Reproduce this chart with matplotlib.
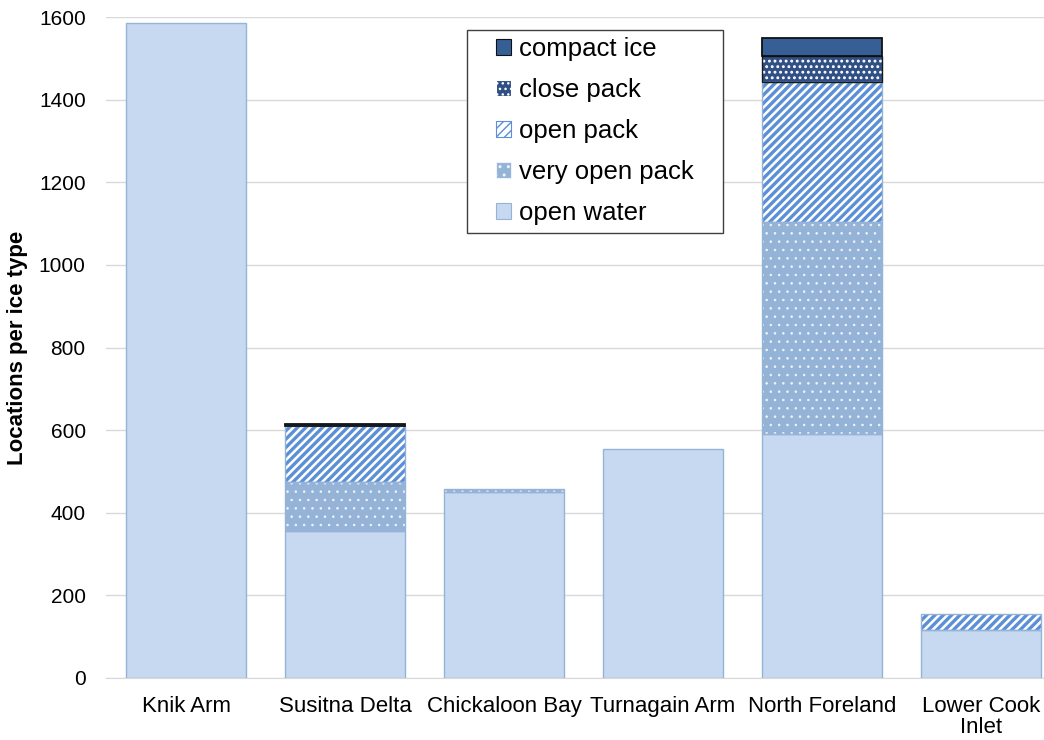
import numpy as np
import matplotlib.pyplot as plt
from matplotlib.patches import Patch, Rectangle

plt.rcParams['font.family'] = ['Liberation Sans', 'DejaVu Sans']

###########################################################
# data

regions = ['Knik Arm', 'Susitna Delta', 'Chickaloon Bay', 'Turnagain Arm',
           'North Foreland', 'Lower Cook\nInlet']

open_water = [1585, 355, 450, 555, 590, 117]
very_open_pack = [0, 120, 7, 0, 515, 0]
open_pack = [0, 135, 0, 0, 337, 37]
close_pack = [0, 0, 0, 0, 63, 0]
compact_ice = [0, 4, 0, 0, 45, 0]

###########################################################
# styles: (label, face, hatch colour, hatch, hatch width, outline)

styles = [
    ('open water', '#c6d9f0', '#c6d9f0', None, 1.0, '#95b3d7'),
    ('very open pack', '#95b3d7', '#eef3fa', '..', 0.6, '#95b3d7'),
    ('open pack', '#ffffff', '#5b8fd6', '////', 2.4, '#95b3d7'),
    ('close pack', '#2f4f85', '#ffffff', '...', 1.3, '#1a1a1a'),
    ('compact ice', '#365f96', '#365f96', None, 1.0, '#111111'),
]
series = [open_water, very_open_pack, open_pack, close_pack, compact_ice]

###########################################################
# plot

fig = plt.figure(figsize=(10.44, 7.40), dpi=100)
ax = fig.add_axes([0.102, 0.0838, 0.914, 0.893])

x = np.arange(len(regions))
width = 0.755
bottom = np.zeros(len(regions))
handles = []
for vals, (label, face, hcol, hatch, hlw, edge) in zip(series, styles):
    vals = np.array(vals, dtype=float)
    with plt.rc_context({'hatch.linewidth': hlw}):
        # fill (hatch colour comes from edgecolor)
        bars = ax.bar(x, vals, width, bottom=bottom, color=face,
                      edgecolor=hcol, hatch=hatch, linewidth=0, zorder=2)
        for b in bars:
            if hasattr(b, 'set_hatch_linewidth'):
                b.set_hatch_linewidth(hlw)
        h = Patch(facecolor=face, edgecolor=hcol if hatch else edge,
                  hatch=hatch, linewidth=0.8, label=label)
        if hasattr(h, 'set_hatch_linewidth'):
            h.set_hatch_linewidth(hlw)
    handles.append(h)
    # outline
    mask = vals > 0
    lw = 1.3 if label == 'compact ice' else 1.0
    ax.bar(x[mask], vals[mask], width, bottom=bottom[mask], fill=False,
           edgecolor=edge, linewidth=lw, zorder=3)
    bottom += vals

ax.set_xlim(-0.5, len(regions) - 0.5)
ax.set_ylim(0, 1600)
ax.set_yticks(np.arange(0, 1601, 200))
ax.set_xticks(x)
ax.set_xticklabels(regions, fontsize=16, linespacing=1.0)
ax.tick_params(axis='y', labelsize=15, length=0, pad=15)
ax.tick_params(axis='x', length=0, pad=13)
ax.grid(axis='y', color='#d9d9d9', linewidth=1, zorder=0)
ax.set_axisbelow(True)
for side in ['top', 'right', 'left']:
    ax.spines[side].set_visible(False)
ax.spines['bottom'].set_color('#d9d9d9')
ax.set_ylabel('Locations per ice type', fontsize=16, fontweight='bold')
ax.yaxis.set_label_coords(-0.082, 0.5)

# legend box drawn separately so the side padding can be wide
W, H = 1044.0, 740.0
fig.patches.append(Rectangle((467 / W, 1 - 233 / H), 256 / W, 203 / H,
                             transform=fig.transFigure, facecolor='white',
                             edgecolor='#404040', linewidth=1.0, zorder=5))
leg = fig.legend(handles=handles[::-1], loc='upper left',
                 bbox_to_anchor=(496 / W, 1 - 37 / H),
                 fontsize=18.5, frameon=False,
                 handlelength=0.6, handleheight=0.6, handletextpad=0.3,
                 labelspacing=0.66, borderpad=0, borderaxespad=0)
leg.set_zorder(6)

fig.savefig('out.png', dpi=100)
